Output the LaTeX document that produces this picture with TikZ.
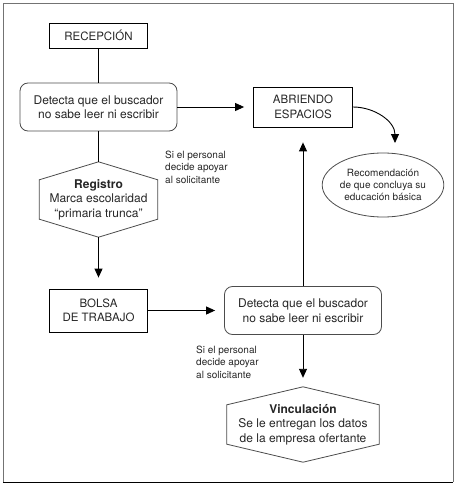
\documentclass[tikz,border=0pt]{standalone}
\usepackage{fontspec}
\setmainfont{TeX Gyre Heros}
\usetikzlibrary{shapes.geometric,arrows.meta}
\tikzset{
  txt/.style={text=black!85,font=\fontsize{12}{14.5}\selectfont,align=center,inner sep=0pt},
  capbox/.style={txt,draw=black,line width=0.8pt,font=\fontsize{11.5}{14.5}\selectfont},
  detbox/.style={txt,draw=black!70,line width=0.8pt,rounded corners=8pt,
    minimum width=157pt,minimum height=48pt},
  hexbox/.style={txt,minimum height=75pt},
  hexline/.style={draw=black!70,line width=0.8pt},
  note/.style={text=black!85,font=\fontsize{10}{12.5}\selectfont,align=left,inner sep=0pt,anchor=west},
  conn/.style={draw=black,line width=0.9pt},
  arr/.style={conn,-{Triangle[length=9pt,width=8pt]},shorten >=9pt}
}
\begin{document}
\begin{tikzpicture}[x=1pt,y=-1pt]
  \useasboundingbox (0,0) rectangle (461,487);
  % frame
  \draw[black!55,line width=0.9pt] (3,482) -- (3,3) -- (453,3) -- (453,482);
  \draw[black,line width=1pt] (3,482) -- (453,482);
  % left column
  \node[capbox,minimum width=98pt,minimum height=25pt] (rec) at (98.5,35.5) {RECEPCIÓN};
  \node[detbox] (det1) at (98.5,107) {Detecta que el buscador\\no sabe leer ni escribir};
  \node[hexbox,minimum width=118pt] (reg) at (98.5,199.5)
    {\textbf{Registro}\\Marca escolaridad\\“primaria trunca”};
  \node[capbox,minimum width=98pt,minimum height=43pt] (bolsa) at (98.5,310.5) {BOLSA\\DE TRABAJO};
  % right column
  \node[capbox,minimum width=99pt,minimum height=40pt] (abr) at (303,107) {ABRIENDO\\ESPACIOS};
  \node[txt,draw=black!70,line width=0.8pt,ellipse,minimum width=110pt,minimum height=64pt,
    font=\fontsize{10}{12}\selectfont] (recom) at (383,185)
    {Recomendación\\de que concluya su\\educación básica};
  \node[detbox] (det2) at (303,310.5) {Detecta que el buscador\\no sabe leer ni escribir};
  \node[hexbox,minimum width=152pt] (vinc) at (303,424.5)
    {\textbf{Vinculación}\\Se le entregan los datos\\de la empresa ofertante};
  % notes
  \node[note] (nota1) at (165,167) {Si el personal\\decide apoyar\\al solicitante};
  \node[note] (nota2) at (196,362) {Si el personal\\decide apoyar\\al solicitante};
  \coordinate (rectip) at (395,143);
  % hexagons
  \foreach \h in {reg,vinc}
    \draw[hexline] (\h.north) -- ([yshift=-18pt]\h.north east) -- ([yshift=18pt]\h.south east)
      -- (\h.south) -- ([yshift=18pt]\h.south west) -- ([yshift=-18pt]\h.north west) -- cycle;
  % connectors
  \draw[conn] (rec) -- (det1);
  \draw[conn] (det1) -- (reg);
  \draw[arr] (det1) -- (abr);
  \draw[arr,shorten >=11pt] (reg) -- (bolsa);
  \draw[arr] (bolsa) -- (det2);
  \draw[arr,shorten >=15pt] (det2) -- (abr);
  \draw[arr] (det2) -- (vinc);
  \draw[arr,shorten >=0pt] (abr.east) to[out=0,in=90] (rectip);
\end{tikzpicture}
\end{document}
